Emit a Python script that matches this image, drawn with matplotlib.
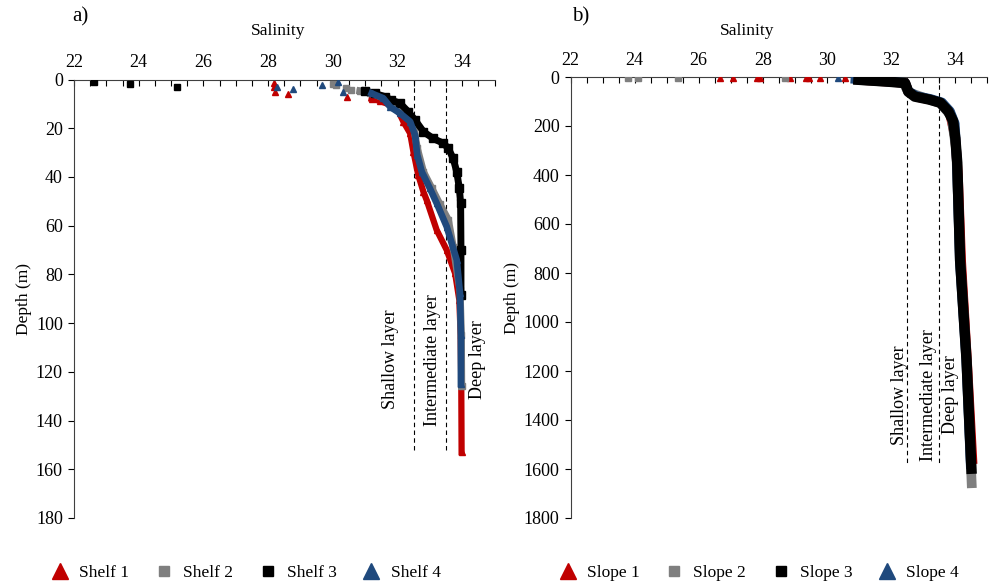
import matplotlib
matplotlib.use("Agg")
from matplotlib import pyplot as plt
from matplotlib.lines import Line2D
from matplotlib.ticker import MultipleLocator

plt.rcParams['font.family'] = ['Liberation Serif', 'DejaVu Serif']
plt.rcParams['font.size'] = 12.5

RED = '#C00000'
GREY = '#7F7F7F'
BLACK = '#000000'
BLUE = '#1F497D'

# ---- a) shelf stations: sparse surface points + continuous profile ----
shelf1_surf_sal = [28.18, 28.18, 28.2, 28.62, 30.43]
shelf1_surf_dep = [1.6, 3.0, 5.0, 6.0, 7.0]
shelf1_sal = [31.2, 31.46, 31.97, 32.18, 32.39, 32.49, 32.64, 32.8, 32.9, 33.21,
              33.52, 33.78, 33.91, 33.95, 33.97, 33.98]
shelf1_dep = [8, 8.8, 11.5, 17.3, 22.1, 29.6, 39.2, 46.1, 49.5, 61.8,
              70, 79.6, 90.6, 105, 125, 153]

shelf2_surf_sal = [30.0, 30.1, 30.4, 30.55]
shelf2_surf_dep = [2.0, 2.3, 3.6, 4.2]
shelf2_sal = [30.84, 31.15, 31.87, 32.28, 32.49, 32.61, 32.8, 33.06, 33.3, 33.57,
              33.72, 33.93, 33.97, 33.98]
shelf2_dep = [4.7, 5.4, 9.1, 13.2, 18.7, 28.3, 37.9, 44.7, 51, 57.7,
              68.7, 86.4, 105, 126]

shelf3_surf_sal = [22.61, 23.73, 25.17]
shelf3_surf_dep = [0.9, 2.0, 2.9]
shelf3_sal = [31.0, 31.3, 31.6, 31.8, 32.08, 32.33, 32.54, 32.8, 33.1, 33.42,
              33.57, 33.72, 33.83, 33.91, 33.95, 33.96, 33.96]
shelf3_dep = [4.7, 5.7, 7.0, 8.4, 9.8, 13.2, 16.6, 21.4, 24.2, 26.2,
              28.3, 32.4, 37.9, 44.7, 50.8, 70, 88.5]

shelf4_surf_sal = [28.27, 28.78, 29.66, 30.17, 30.32]
shelf4_surf_dep = [3.2, 3.9, 2.3, 0.9, 5.0]
shelf4_sal = [31.2, 31.56, 31.77, 32.08, 32.39, 32.54, 32.61, 32.75, 33.0, 33.21,
              33.52, 33.83, 33.93, 33.96, 33.96]
shelf4_dep = [5.7, 7.7, 11.2, 13.9, 17.3, 22.8, 31, 37.9, 44.7, 50.8,
              60.4, 74.1, 87.8, 105, 125]

# ---- b) slope stations ----
slope1_surf_sal = [26.67, 27.08, 27.81, 27.92, 28.85, 29.35, 29.46, 29.79, 30.57]
slope1_surf_dep = [3, 3, 3, 3, 3, 3, 3, 3, 3]
slope1_sal = [31.1, 31.8, 32.45, 32.55, 32.85, 33.3, 33.6, 33.85, 34.02, 34.1,
              34.2, 34.38, 34.55]
slope1_dep = [12, 18, 24, 60, 82, 94, 108, 145, 250, 400, 750, 1150, 1560]

slope2_surf_sal = [23.78, 24.11, 25.34, 28.7]
slope2_surf_dep = [3, 3, 3, 3]
slope2_sal = [31.0, 32.4, 32.55, 33.2, 33.55, 33.9, 34.05, 34.17, 34.37, 34.53]
slope2_dep = [12, 24, 62, 92, 107, 160, 300, 750, 1155, 1658]

slope3_sal = [30.83, 31.3, 31.8, 32.2, 32.45, 32.55, 32.75, 33.2, 33.55, 33.8,
              33.95, 34.02, 34.08, 34.17, 34.37, 34.53]
slope3_dep = [10, 14, 18, 22, 25, 60, 80, 92, 105, 140,
              180, 250, 350, 750, 1155, 1620]

slope4_surf_sal = [30.34]
slope4_surf_dep = [3]
slope4_sal = [30.9, 31.8, 32.45, 32.55, 32.8, 33.25, 33.6, 33.85, 34.0, 34.07,
              34.16, 34.36, 34.5]
slope4_dep = [8, 17, 24, 58, 78, 90, 104, 140, 190, 350, 750, 1150, 1580]

layer_bounds = [32.5, 33.5]
layer_names = ['Shallow layer', 'Intermediate layer', 'Deep layer']


def style_axis(ax, ymax, ystep):
    ax.set_xlim(22, 35)
    ax.set_ylim(ymax, 0)
    ax.xaxis.tick_top()
    ax.xaxis.set_major_locator(MultipleLocator(2))
    ax.xaxis.set_minor_locator(MultipleLocator(0.5))
    ax.yaxis.set_major_locator(MultipleLocator(ystep))
    ax.tick_params(axis='x', which='both', direction='in', length=4,
                   width=0.8, pad=6, top=True, bottom=False, labelsize=13)
    ax.tick_params(axis='y', direction='out', length=4, width=0.8, pad=4,
                   labelsize=13)
    for s in ['right', 'bottom']:
        ax.spines[s].set_visible(False)
    for s in ['left', 'top']:
        ax.spines[s].set_linewidth(0.8)
        ax.spines[s].set_color('#404040')
    ax.set_ylabel('Depth (m)', labelpad=3)


fig = plt.figure(figsize=(9.9, 5.84), dpi=100)
axL = fig.add_axes([74 / 990, 1 - 518 / 584, 420.6 / 990, (518 - 79.5) / 584])
axR = fig.add_axes([570.7 / 990, 1 - 518 / 584, 416 / 990, (518 - 77) / 584])

# left panel
axL.plot(shelf1_sal, shelf1_dep, color=RED, lw=4.5, marker='^', ms=5, zorder=2)
axL.plot(shelf2_sal, shelf2_dep, color=GREY, lw=5.2, marker='s', ms=5, zorder=3)
axL.plot(shelf3_sal, shelf3_dep, color=BLACK, lw=5, marker='s', ms=5.2, zorder=4)
axL.plot(shelf4_sal, shelf4_dep, color=BLUE, lw=4.8, marker='^', ms=5, zorder=5)
axL.plot(shelf1_surf_sal, shelf1_surf_dep, ls='none', color=RED, marker='^', ms=5, zorder=2)
axL.plot(shelf2_surf_sal, shelf2_surf_dep, ls='none', color=GREY, marker='s', ms=4.8, zorder=3)
axL.plot(shelf3_surf_sal, shelf3_surf_dep, ls='none', color=BLACK, marker='s', ms=4.2, zorder=4)
axL.plot(shelf4_surf_sal, shelf4_surf_dep, ls='none', color=BLUE, marker='^', ms=5, zorder=5)
for xb in layer_bounds:
    axL.plot([xb, xb], [0, 153], color='black', ls=(0, (4, 3)), lw=0.8, zorder=1)
for name, xs in zip(layer_names, [31.77, 33.07, 34.46]):
    axL.text(xs, 115, name, rotation=90, ha='center', va='center', fontsize=13)
style_axis(axL, 180, 20)

# right panel
axR.plot(slope1_sal, slope1_dep, color=RED, lw=7, zorder=2)
axR.plot(slope2_sal, slope2_dep, color=GREY, lw=7, zorder=3)
axR.plot(slope4_sal, slope4_dep, color=BLUE, lw=7, zorder=4)
axR.plot(slope3_sal, slope3_dep, color=BLACK, lw=7.5, solid_capstyle='butt', zorder=5)
axR.plot(slope1_surf_sal, slope1_surf_dep, ls='none', color=RED, marker='^', ms=4.5, zorder=6)
axR.plot(slope2_surf_sal, slope2_surf_dep, ls='none', color=GREY, marker='s', ms=4, zorder=6)
axR.plot(slope4_surf_sal, slope4_surf_dep, ls='none', color=BLUE, marker='^', ms=5, zorder=6)
for xb in layer_bounds:
    axR.plot([xb, xb], [0, 1577], color='black', ls=(0, (4, 3)), lw=0.8, zorder=1)
for name, xs in zip(layer_names, [32.29, 33.17, 33.86]):
    axR.text(xs, 1298, name, rotation=90, ha='center', va='center', fontsize=13)
style_axis(axR, 1800, 200)

fig.text(278 / 990, 1 - 31 / 584, 'Salinity', ha='center', va='center')
fig.text(747 / 990, 1 - 31 / 584, 'Salinity', ha='center', va='center')
fig.text(80 / 990, 1 - 17 / 584, 'a)', ha='center', va='center', fontsize=15)
fig.text(581 / 990, 1 - 17 / 584, 'b)', ha='center', va='center', fontsize=15)

# legends
def legend_handles(colors, markers):
    return [Line2D([], [], ls='none', color=c, marker=m,
                   ms=11 if m == '^' else 7.5) for c, m in zip(colors, markers)]

cols = [RED, GREY, BLACK, BLUE]
mks = ['^', 's', 's', '^']
fig.legend(legend_handles(cols, mks), ['Shelf 1', 'Shelf 2', 'Shelf 3', 'Shelf 4'],
           loc='center', bbox_to_anchor=(246 / 990, 1 - 573 / 584), ncol=4,
           frameon=False, handlelength=1.0, handletextpad=0.6, columnspacing=1.5)
fig.legend(legend_handles(cols, mks), ['Slope 1', 'Slope 2', 'Slope 3', 'Slope 4'],
           loc='center', bbox_to_anchor=(759 / 990, 1 - 573 / 584), ncol=4,
           frameon=False, handlelength=1.0, handletextpad=0.6, columnspacing=1.5)

fig.savefig('out.png', dpi=100)
